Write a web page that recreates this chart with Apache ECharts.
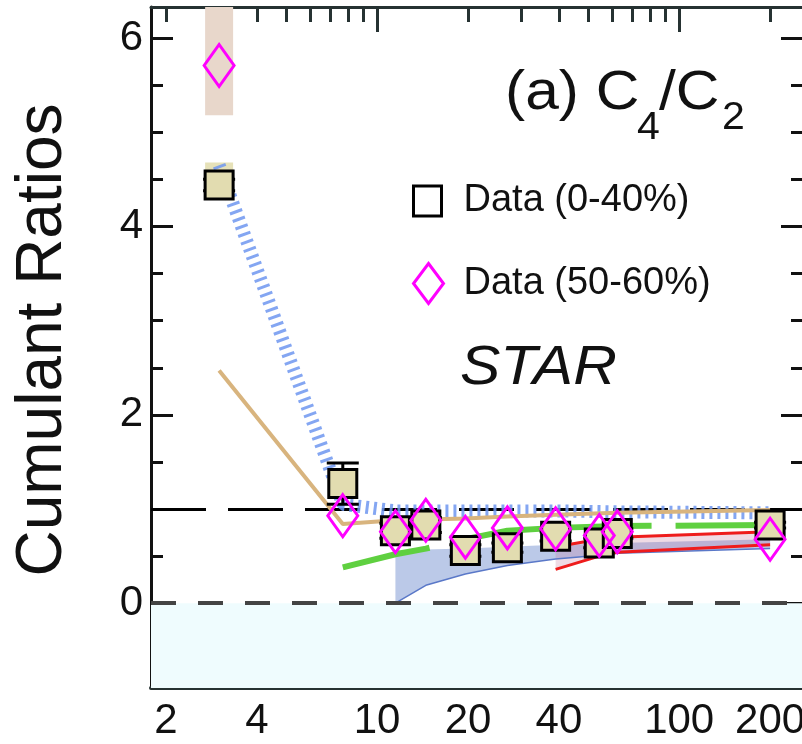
<!DOCTYPE html>
<html>
<head>
<meta charset="utf-8">
<script src="https://cdn.jsdelivr.net/npm/echarts@6/dist/echarts.min.js"></script>
<style>
  html, body { margin: 0; padding: 0; background: #fff; }
  #chart { width: 802px; height: 744px; }
</style>
</head>
<body>
<div id="chart"></div>
<script>
// collision energy (GeV)
const energies = [3, 7.7, 11.5, 14.5, 19.6, 27, 39, 54.4, 62.4, 200]
// C4/C2, 0-40% centrality
const central = [4.44, 1.27, 0.77, 0.83, 0.56, 0.59, 0.71, 0.64, 0.74, 0.83]
const centralErr = [0.06, 0.22, 0.08, 0.08, 0.06, 0.05, 0.05, 0.05, 0.05, 0.03]
const centralSys = [[3, 4.30, 4.68]]
// C4/C2, 50-60% centrality
const peripheral = [5.71, 0.93, 0.76, 0.88, 0.70, 0.80, 0.79, 0.72, 0.76, 0.68]
const peripheralSys = [[3, 5.18, 6.33]]

// model curves
const tanX = [3, 7.7, 11.5, 14.5, 19.6, 27, 39, 62.4, 200]
const tanY = [2.47, 0.84, 0.88, 0.89, 0.9, 0.92, 0.94, 0.96, 0.99]
const hatchX = [3, 7.7, 11.5, 19.6, 39, 62.4, 200]
const hatchY = [4.65, 1.05, 0.98, 0.98, 0.98, 0.97, 0.96]
const greenX = [7.7, 11.5, 14.5, 19.6, 27, 39, 62.4, 200]
const greenY = [0.38, 0.52, 0.58, 0.68, 0.77, 0.8, 0.82, 0.83]
const blueBandX = [11.5, 14.5, 19.6, 27, 39, 54.4, 62.4, 200]
const blueLow = [0.0, 0.19, 0.31, 0.4, 0.47, 0.51, 0.53, 0.58]
const blueHigh = [0.56, 0.57, 0.58, 0.6, 0.62, 0.63, 0.64, 0.68]
const redX = [39, 54.4, 62.4, 200]
const redLow = [0.36, 0.5, 0.54, 0.62]
const redHigh = [0.6, 0.68, 0.7, 0.76]

// axis ticks
const xLabels = [2, 4, 10, 20, 40, 100, 200]
const xMajor = [10, 100]
const xMinor = [2, 3, 4, 5, 6, 7, 8, 9, 20, 30, 40, 50, 60, 70, 80, 90, 200]
const yMajor = [0, 2, 4, 6]
const yMinor = [-0.5, 0.5, 1, 1.5, 2.5, 3, 3.5, 4.5, 5, 5.5]

const FONT = 'Liberation Sans, Arial, Helvetica, sans-serif'
const X_MIN = 1.785
const X_MAX = 257
const Y_MIN = -0.9
const Y_MAX = 6.33

const zip = (xs, ys) => xs.map((x, i) => [x, ys[i]])

const xAxisBase = (position, ticks, len, showLine, labels) => ({
  type: 'log',
  logBase: 10,
  position,
  min: X_MIN,
  max: X_MAX,
  axisLine: { show: showLine, onZero: false, lineStyle: { color: '#263232', width: position === 'bottom' ? 4 : 3 } },
  axisTick: { show: true, inside: true, length: len, customValues: ticks, lineStyle: { color: '#263232', width: 3 } },
  axisLabel: labels
    ? { show: true, customValues: labels, fontSize: 42, fontFamily: FONT, color: '#111', margin: 12 }
    : { show: false },
  splitLine: { show: false },
  minorTick: { show: false },
})

const yAxisBase = (position, ticks, len, showLine, labels) => ({
  type: 'value',
  position,
  min: Y_MIN,
  max: Y_MAX,
  axisLine: { show: showLine, onZero: false, lineStyle: { color: '#111', width: 3 } },
  axisTick: { show: true, inside: true, length: len, customValues: ticks, lineStyle: { color: '#111', width: 3 } },
  axisLabel: labels
    ? { show: true, customValues: labels, fontSize: 42, fontFamily: FONT, color: '#111', margin: 8 }
    : { show: false },
  splitLine: { show: false },
})

const bandSeries = (name, xs, lo, hi, fill, z) => ({
  type: 'custom',
  name,
  z,
  silent: true,
  clip: true,
  data: [[xs[0], lo[0]]],
  renderItem: (params, api) => {
    const top = xs.map((x, i) => api.coord([x, hi[i]]))
    const bottom = xs.map((x, i) => api.coord([x, lo[i]])).reverse()
    return { type: 'polygon', shape: { points: top.concat(bottom) }, style: { fill } }
  },
})

const sysSeries = (name, rows, fill, z) => ({
  type: 'custom',
  name,
  z,
  silent: true,
  clip: true,
  data: rows,
  renderItem: (params, api) => {
    const a = api.coord([api.value(0), api.value(2)])
    const b = api.coord([api.value(0), api.value(1)])
    return { type: 'rect', shape: { x: a[0] - 14, y: a[1], width: 28, height: b[1] - a[1] }, style: { fill } }
  },
})

// small helper for the annotation texts (the original lettering is a bit wide)
const label = (text, x, y, font) => ({
  type: 'text', x, y, scaleX: 1.08,
  style: { text, font: font + ' ' + FONT, fill: '#111', align: 'left', verticalAlign: 'middle' },
})

const chart = echarts.init(document.getElementById('chart'))
chart.setOption({
  animation: false,
  backgroundColor: '#fff',
  grid: { left: 151, top: 7, width: 652, height: 681, containLabel: false, outerBoundsMode: 'none' },
  xAxis: [
    xAxisBase('bottom', xMinor, 13, true, xLabels),
    xAxisBase('bottom', xMajor, 24, false, null),
    xAxisBase('top', xMinor, 15, true, null),
    xAxisBase('top', xMajor, 25, false, null),
  ],
  yAxis: [
    yAxisBase('left', yMajor, 22, true, yMajor),
    yAxisBase('left', yMinor, 12, false, null),
    yAxisBase('right', yMajor, 22, true, null),
    yAxisBase('right', yMinor, 12, false, null),
  ],
  legend: [
    {
      left: 412, top: 182, padding: 0, itemWidth: 28, itemHeight: 30, selectedMode: false,
      textStyle: { fontSize: 38, fontFamily: FONT, color: '#111', padding: [0, 0, 0, 17] },
      data: [{ name: 'Data (0-40%)', icon: 'rect', itemStyle: { color: '#fff', borderColor: '#000', borderWidth: 3 } }],
    },
    {
      left: 412, top: 262, padding: 0, itemWidth: 30, itemHeight: 40, selectedMode: false,
      textStyle: { fontSize: 38, fontFamily: FONT, color: '#111', padding: [0, 0, 0, 15] },
      data: [{ name: 'Data (50-60%)', icon: 'diamond', itemStyle: { color: '#fff', borderColor: '#ff00ff', borderWidth: 3 } }],
    },
  ],
  graphic: [
    { type: 'text', x: 43, y: 340, rotation: Math.PI / 2, style: { text: 'Cumulant Ratios', font: '64px ' + FONT, fill: '#111', align: 'center', verticalAlign: 'middle' } },
    label('(a) C', 505, 94, '56px'),
    label('4', 637, 129, '38px'),
    label('/C', 659, 94, '56px'),
    label('2', 722, 119, '38px'),
    label('STAR', 460, 368, 'italic 56px'),
  ],
  series: [
    {
      type: 'line',
      name: 'reference',
      z: 1,
      data: [],
      markArea: {
        silent: true,
        itemStyle: { color: '#effcfe' },
        data: [[{ yAxis: Y_MIN }, { yAxis: 0 }]],
      },
      markLine: {
        silent: true,
        symbol: 'none',
        label: { show: false },
        data: [
          { yAxis: 0, lineStyle: { color: '#444', width: 4, type: [25, 22] } },
          { yAxis: 1, lineStyle: { color: '#000', width: 3, type: [55, 22] } },
        ],
      },
    },
    bandSeries('blue band', blueBandX, blueLow, blueHigh, 'rgba(105,135,205,0.45)', 3),
    bandSeries('red band', redX, redLow, redHigh, 'rgba(190,110,150,0.25)', 3),
    {
      type: 'line', name: 'blue low', z: 4, symbol: 'none', silent: true,
      data: zip(blueBandX, blueLow),
      lineStyle: { color: '#5a78c8', width: 1.5 },
    },
    {
      type: 'line', name: 'red low', z: 4, symbol: 'none', silent: true,
      data: zip(redX, redLow),
      lineStyle: { color: '#ee1c1c', width: 3 },
    },
    {
      type: 'line', name: 'red high', z: 4, symbol: 'none', silent: true,
      data: zip(redX, redHigh),
      lineStyle: { color: '#ee1c1c', width: 3 },
    },
    {
      type: 'line', name: 'green', z: 4, symbol: 'none', silent: true,
      data: zip(greenX, greenY),
      lineStyle: { color: '#5fd040', width: 6, type: [200, 24], dashOffset: 111 },
    },
    {
      type: 'line', name: 'hatch', z: 5, symbol: 'none', silent: true,
      data: zip(hatchX, hatchY),
      lineStyle: { color: 'rgba(110,150,240,0.85)', width: 13, type: [3, 5], cap: 'butt' },
    },
    {
      type: 'line', name: 'tan', z: 6, symbol: 'none', silent: true,
      data: zip(tanX, tanY),
      lineStyle: { color: '#d8b47e', width: 4 },
    },
    sysSeries('sys peripheral', peripheralSys, '#e8d7cb', 3),
    sysSeries('sys central', centralSys, '#e6e1b8', 3),
    {
      type: 'custom',
      name: 'err central',
      z: 7,
      silent: true,
      data: energies.map((x, i) => [x, central[i] - centralErr[i], central[i] + centralErr[i]]),
      renderItem: (params, api) => {
        const lo = api.coord([api.value(0), api.value(1)])
        const hi = api.coord([api.value(0), api.value(2)])
        const s = { stroke: '#000', lineWidth: 3 }
        return {
          type: 'group',
          children: [
            { type: 'line', shape: { x1: lo[0], y1: lo[1], x2: hi[0], y2: hi[1] }, style: s },
            { type: 'line', shape: { x1: lo[0] - 16, y1: lo[1], x2: lo[0] + 16, y2: lo[1] }, style: s },
            { type: 'line', shape: { x1: hi[0] - 16, y1: hi[1], x2: hi[0] + 16, y2: hi[1] }, style: s },
          ],
        }
      },
    },
    {
      type: 'scatter',
      name: 'Data (0-40%)',
      z: 8,
      symbol: 'rect',
      symbolSize: [28, 28],
      data: zip(energies, central),
      itemStyle: { color: '#e2dcb0', borderColor: '#000', borderWidth: 3, opacity: 1 },
    },
    {
      type: 'scatter',
      name: 'Data (50-60%)',
      z: 9,
      symbol: 'diamond',
      symbolSize: [30, 42],
      data: zip(energies, peripheral),
      itemStyle: { color: 'rgba(0,0,0,0)', borderColor: '#ff00ff', borderWidth: 3, opacity: 1 },
    },
  ],
})
</script>
</body>
</html>
